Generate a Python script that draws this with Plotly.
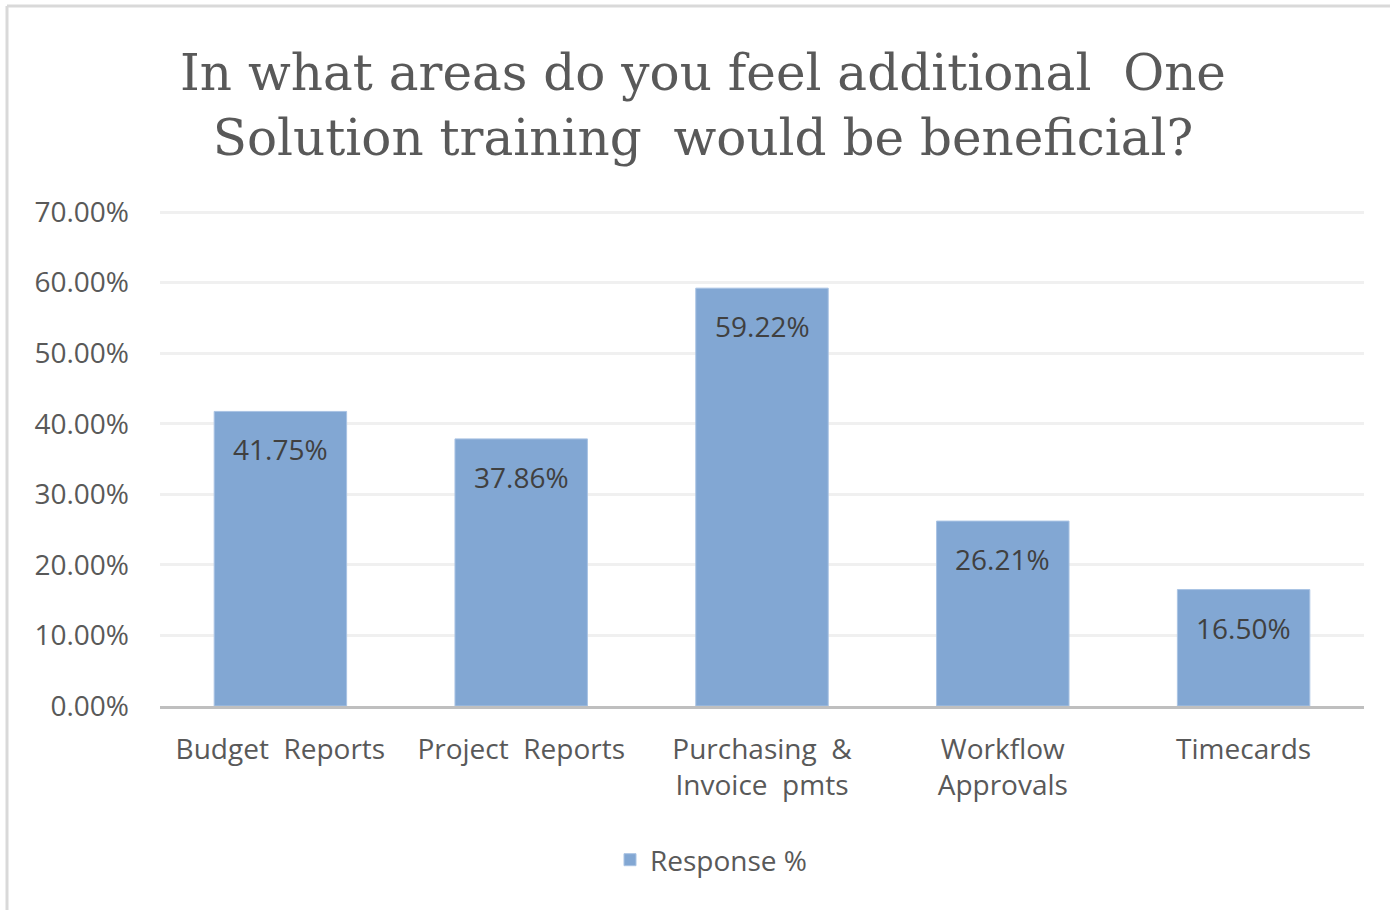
import plotly.graph_objects as go

categories = ["Budget  Reports", "Project  Reports", "Purchasing  &<br>Invoice  pmts", "Workflow<br>Approvals", "Timecards"]
values = [0.4175, 0.3786, 0.5922, 0.2621, 0.1650]
labels = ["41.75%", "37.86%", "59.22%", "26.21%", "16.50%"]
tick_vals = [0, 0.1, 0.2, 0.3, 0.4, 0.5, 0.6, 0.7]
tick_text = ["0.00%", "10.00%", "20.00%", "30.00%", "40.00%", "50.00%", "60.00%", "70.00%"]
series_name = "Response %"
title_text = "In what areas do you feel additional  One<br>Solution training  would be beneficial?"

W, H = 1390, 910
Y_MAX = 0.703
L, R, B = 160, 1364, 706  # plot area pixels
T = round(B - Y_MAX * (706 - 212) / 0.7)

def px(x):
    return (x - L) / (R - L)

def py(y):
    return (B - y) / (B - T)

SANS = "Open Sans, Noto Sans, sans-serif"
FS = 28

fig = go.Figure()
fig.add_trace(go.Bar(
    x=categories, y=values, name=series_name,
    marker=dict(color="#82a7d3", line=dict(color="#a9c3e3", width=1)),
    showlegend=True,
))

for c, v, t in zip(categories, values, labels):
    fig.add_annotation(x=c, y=v, text=t, showarrow=False, yshift=-38,
                       font=dict(family=SANS, size=FS, color="#404040"))

# chart border (top and left)
fig.add_shape(type="line", xref="paper", yref="paper", x0=px(7), x1=px(1392), y0=py(6), y1=py(6),
              line=dict(color="#d9d9d9", width=3), layer="below")
fig.add_shape(type="line", xref="paper", yref="paper", x0=px(7), x1=px(7), y0=py(6), y1=py(912),
              line=dict(color="#d9d9d9", width=3), layer="below")

fig.update_layout(
    width=W, height=H,
    margin=dict(l=L, r=W - R, t=T, b=H - B),
    paper_bgcolor="white", plot_bgcolor="white",
    bargap=0.45,
    title=dict(text=title_text, x=703 / W, xanchor="center", xref="container",
               y=1 - 90 / H, yanchor="middle", yref="container",
               font=dict(family="DejaVu Serif, serif", size=50, color="#595959")),
    yaxis=dict(range=[0, Y_MAX], tickvals=tick_vals, ticktext=tick_text,
               showgrid=True, gridcolor="#f0f0f0", gridwidth=3, zeroline=False,
               showline=False, ticks="", ticklabelstandoff=30,
               tickfont=dict(family=SANS, size=FS, color="#595959")),
    xaxis=dict(showline=True, linecolor="#bfbfbf", linewidth=3, ticks="",
               ticklabelstandoff=16,
               tickfont=dict(family=SANS, size=FS, color="#595959")),
    legend=dict(orientation="h", x=711 / W, xanchor="center", xref="container",
                y=1 - 860 / H, yanchor="middle", yref="container",
                font=dict(family=SANS, size=FS, color="#595959")),
)

fig.write_html("out.html", config={"displayModeBar": False},
               post_script="document.body.style.margin='0';document.body.style.overflow='hidden';")
